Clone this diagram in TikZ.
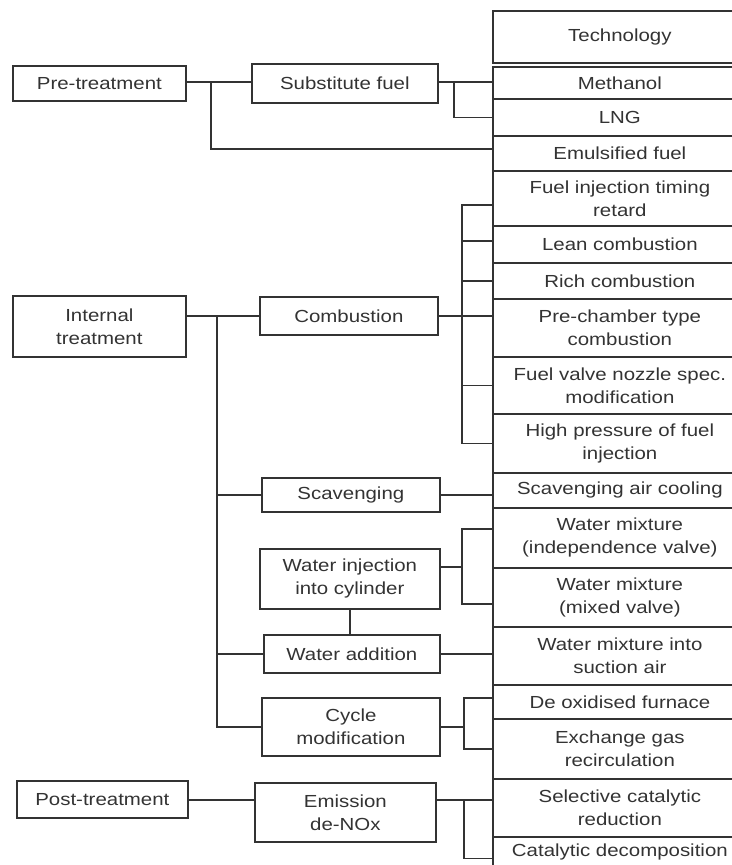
\documentclass[tikz,border=0pt]{standalone}
\usepackage{fontspec}
\setmainfont{Liberation Sans}[FakeStretch=1.17]

\begin{document}
\begin{tikzpicture}[x=0.75pt,y=-0.75pt,
                    line width=1.3pt,black!80,
                    font=\fontsize{13.1}{17.3}\selectfont,
                    techrow/.style={draw,anchor=north west,inner sep=0pt,align=center,
                                    minimum width=254*0.75pt,minimum height=#1*0.75pt},
                    cat/.style 2 args={draw,anchor=north west,inner sep=0pt,align=center,
                                    minimum width=#1*0.75pt,minimum height=#2*0.75pt}
        ]
\useasboundingbox (0,0) rectangle (732,865);
% technology column
\node[techrow=52] (tech) at (492,10) {Technology};
\node[techrow=32] (meth) at (492,66) {Methanol};
\node[techrow=37] (lng) at (492,98) {LNG};
\node[techrow=35] (emul) at (492,135) {Emulsified fuel};
\node[techrow=55] (fit) at (492,170) {Fuel injection timing\\retard};
\node[techrow=37] (lean) at (492,225) {Lean combustion};
\node[techrow=36] (rich) at (492,262) {Rich combustion};
\node[techrow=58] (prech) at (492,298) {Pre-chamber type\\combustion};
\node[techrow=57] (fvn) at (492,356) {Fuel valve nozzle spec.\\modification};
\node[techrow=59] (hp) at (492,413) {High pressure of fuel\\injection};
\node[techrow=35] (sac) at (492,472) {Scavenging air cooling};
\node[techrow=60] (wmi) at (492,507) {Water mixture\\(independence valve)};
\node[techrow=59] (wmm) at (492,567) {Water mixture\\(mixed valve)};
\node[techrow=58] (wms) at (492,626) {Water mixture into\\suction air};
\node[techrow=34] (dof) at (492,684) {De oxidised furnace};
\node[techrow=60] (egr) at (492,718) {Exchange gas\\recirculation};
\node[techrow=58] (scr) at (492,778) {Selective catalytic\\reduction};
\node[techrow=31] (cd) at (492,836) {Catalytic decomposition};
% treatments
\node[cat={173}{35}] (pre) at (12,65) {Pre-treatment};
\node[cat={173}{61}] (int) at (12,295) {Internal\\treatment};
\node[cat={171}{37}] (post) at (16,780) {Post-treatment};
\node[cat={186}{39}] (sub) at (251,63) {Substitute fuel};
\node[cat={178}{38}] (comb) at (259,296) {Combustion};
\node[cat={178}{34}] (scav) at (261,477) {Scavenging};
\node[cat={180}{60}] (winj) at (259,548) {Water injection\\into cylinder};
\node[cat={176}{38}] (wadd) at (263,634) {Water addition};
\node[cat={178}{58}] (cyc) at (261,697) {Cycle\\modification};
\node[cat={181}{59}] (emis) at (254,782) {Emission\\de-NOx};
% forks
\coordinate (pf) at (211,82);
\coordinate (sf) at (454,82);
\coordinate (cb) at (462,0);
\coordinate (mb) at (217,0);
\coordinate (wf) at (462,567);
\coordinate (yf) at (464,0);
\coordinate (ef) at (464,800);
\draw (pre.east |- pf) -- (sub.west |- pf);
\draw (pf) |- ([yshift=3.4pt]emul.west);
\draw (sub.east |- sf) -- (meth.west |- sf);
\draw (sf) |- (lng.west);
\draw (int.east |- comb.west) -- (comb.west);
\draw (comb.east) -- (comb.east -| prech.west);
\draw ([yshift=-4.9pt]fit.west) -| (cb |- hp.west) -- (hp.west);
\draw ([yshift=2.6pt]lean.west) -- ++(-30,0);
\draw (rich.west) -- ++(-30,0);
\draw (fvn.west) -- ++(-30,0);
\draw (mb |- comb.west) |- (cyc.west);
\draw (mb |- scav.west) -- (scav.west);
\draw (mb |- wadd.west) -- (wadd.west);
\draw (scav.east) -- (scav.east -| sac.west);
\draw (winj.east |- wf) -- (wf);
\draw ([yshift=6.75pt]wmi.west) -| (wf) |- ([yshift=-4.9pt]wmm.west);
\draw (winj.south) -- (winj.south |- wadd.north);
\draw (wadd.east) -- (wadd.east -| wms.west);
\draw (cyc.east) -- (cyc.east -| yf);
\draw ([yshift=3pt]dof.west) -| (yf |- cyc.east) |- (egr.west);
\draw (post.east |- ef) -- (emis.west |- ef);
\draw (emis.east |- ef) -- (scr.west |- ef);
\draw (ef) |- ([yshift=-4.5pt]cd.west);
\end{tikzpicture}
\end{document}
